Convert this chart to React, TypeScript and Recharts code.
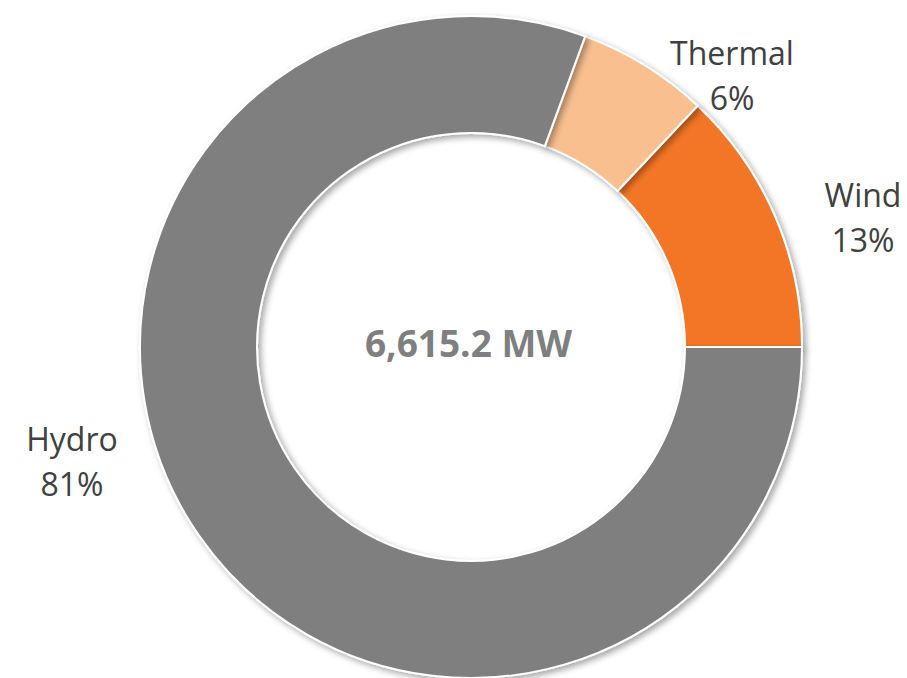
import { PieChart, Pie, Cell, Label } from "recharts";

// installed capacity by source, MW (total 6,615.2)
const sources = ["Wind", "Thermal", "Hydro"];
const capacity = [860, 423, 5332.2];
const colors = ["#F37626", "#F9BF8F", "#7F7F7F"];
const totalLabel = "6,615.2 MW";

const data = sources.map((name, i) => ({ name, value: capacity[i] }));

// Excel "best fit" label spots, relative to the pie centre (first baseline)
const labelOffset: Record<string, [number, number]> = {
  Thermal: [261, -282],
  Wind: [392, -140],
  Hydro: [-399, 104],
};

const renderLabel = (props: any) => {
  const { cx, cy, name, percent } = props;
  const [dx, dy] = labelOffset[name] || [0, 0];
  const x = cx + dx;
  const y = cy + dy;
  return (
    <text
      x={x}
      y={y}
      textAnchor="middle"
      fill="#404040"
      fontFamily="Open Sans"
      fontSize={32}
    >
      <tspan x={x} dy={0}>
        {name}
      </tspan>
      <tspan x={x} dy={45}>
        {Math.round(percent * 100)}%
      </tspan>
    </text>
  );
};

export default function App() {
  return (
    <div style={{ position: "absolute", left: 0, top: 0, width: 907, height: 678, background: "#fff" }}>
      <style>{`body{margin:0}`}</style>
      <svg width={0} height={0} style={{ position: "absolute" }}>
        <defs>
          <filter id="ringShadow" x="-20%" y="-20%" width="140%" height="140%">
            <feDropShadow dx={3} dy={3} stdDeviation={3} floodColor="#000" floodOpacity={0.35} />
          </filter>
        </defs>
      </svg>
      <PieChart width={907} height={678} margin={{ top: 0, right: 0, bottom: 0, left: 0 }}>
        <Pie
          data={data}
          dataKey="value"
          nameKey="name"
          cx={471}
          cy={347}
          innerRadius={214}
          outerRadius={331}
          startAngle={0}
          endAngle={360}
          stroke="#fff"
          strokeWidth={2}
          label={renderLabel}
          labelLine={false}
          isAnimationActive={false}
        >
          {data.map((d, i) => (
            <Cell key={d.name} fill={colors[i]} filter="url(#ringShadow)" />
          ))}
          <Label
            value={totalLabel}
            position="center"
            dx={15}
            dy={5}
            fill="#7F7F7F"
            fontSize={37}
            fontWeight="bold"
            fontFamily="Open Sans"
          />
        </Pie>
      </PieChart>
    </div>
  );
}
